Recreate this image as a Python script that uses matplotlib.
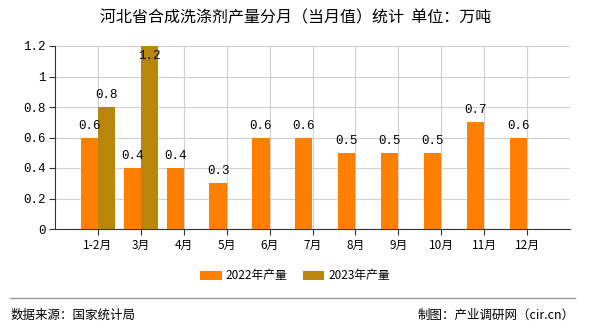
import matplotlib
matplotlib.use("Agg")
import matplotlib.pyplot as plt
import numpy as np

plt.rcParams['font.family'] = ['Noto Sans CJK SC', 'DejaVu Sans']

months = ['1-2月', '3月', '4月', '5月', '6月', '7月', '8月', '9月', '10月', '11月', '12月']
prod2022 = [0.6, 0.4, 0.4, 0.3, 0.6, 0.6, 0.5, 0.5, 0.5, 0.7, 0.6]
prod2023 = [0.8, 1.2]
yticks = [0, 0.2, 0.4, 0.6, 0.8, 1, 1.2]
ylabels = ['0', '0.2', '0.4', '0.6', '0.8', '1', '1.2']

c22 = '#FF8000'
c23 = '#B8860B'
numfont = 'Liberation Mono'

fig = plt.figure(figsize=(5.9, 3.3), dpi=100)
ax = fig.add_axes([55/590, 1-229/330, 515/590, 183/330])

x = np.arange(len(months))
w = 0.4
b1 = ax.bar(x[:len(prod2022)] - w/2, prod2022, w, color=c22, label='2022年产量', zorder=3)
b2 = ax.bar(x[:len(prod2023)] + w/2, prod2023, w, color=c23, label='2023年产量', zorder=3)

ymax = 1.2
for bars, vals in [(b1, prod2022), (b2, prod2023)]:
    for r, v in zip(bars, vals):
        cx = r.get_x() + r.get_width()/2
        if v + 0.07 > ymax:
            off = -7
        else:
            off = 8.5
        ax.annotate(str(v), (cx, v), xytext=(0, off), textcoords='offset points',
                    ha='center', va='center', fontsize=9, family=numfont, zorder=4)

ax.set_xlim(-1, len(months))
ax.set_ylim(0, ymax)
ax.set_xticks(x)
ax.set_xticklabels(months, fontsize=8.5)
ax.set_yticks(yticks)
ax.set_yticklabels(ylabels, fontsize=9, family=numfont)
ax.grid(True, color='#d0d0d0', linewidth=0.8, zorder=0)
for s in ['top', 'right']:
    ax.spines[s].set_visible(False)
for s in ['left', 'bottom']:
    ax.spines[s].set_color('#333333')
ax.tick_params(axis='both', length=4, color='#333333', pad=3)

fig.text(296/590, 1-18/330, '河北省合成洗涤剂产量分月（当月值）统计  单位：万吨',
         ha='center', va='center', fontsize=11.5)

fig.legend(loc='center', bbox_to_anchor=(0.5, 1-276/330), ncol=2, frameon=False,
           fontsize=8.5, handlelength=1.8, handleheight=0.75, handletextpad=0.35,
           columnspacing=1.3)

fig.add_artist(plt.Line2D([10/590, 575/590], [1-298/330, 1-298/330],
                          color='#999999', linewidth=1, transform=fig.transFigure))
fig.text(11/590, 1-315/330, '数据来源：国家统计局', ha='left', va='center', fontsize=9)
fig.text(575/590, 1-315/330, '制图：产业调研网（cir.cn）', ha='right', va='center', fontsize=9)

fig.savefig('out.png', dpi=100)
